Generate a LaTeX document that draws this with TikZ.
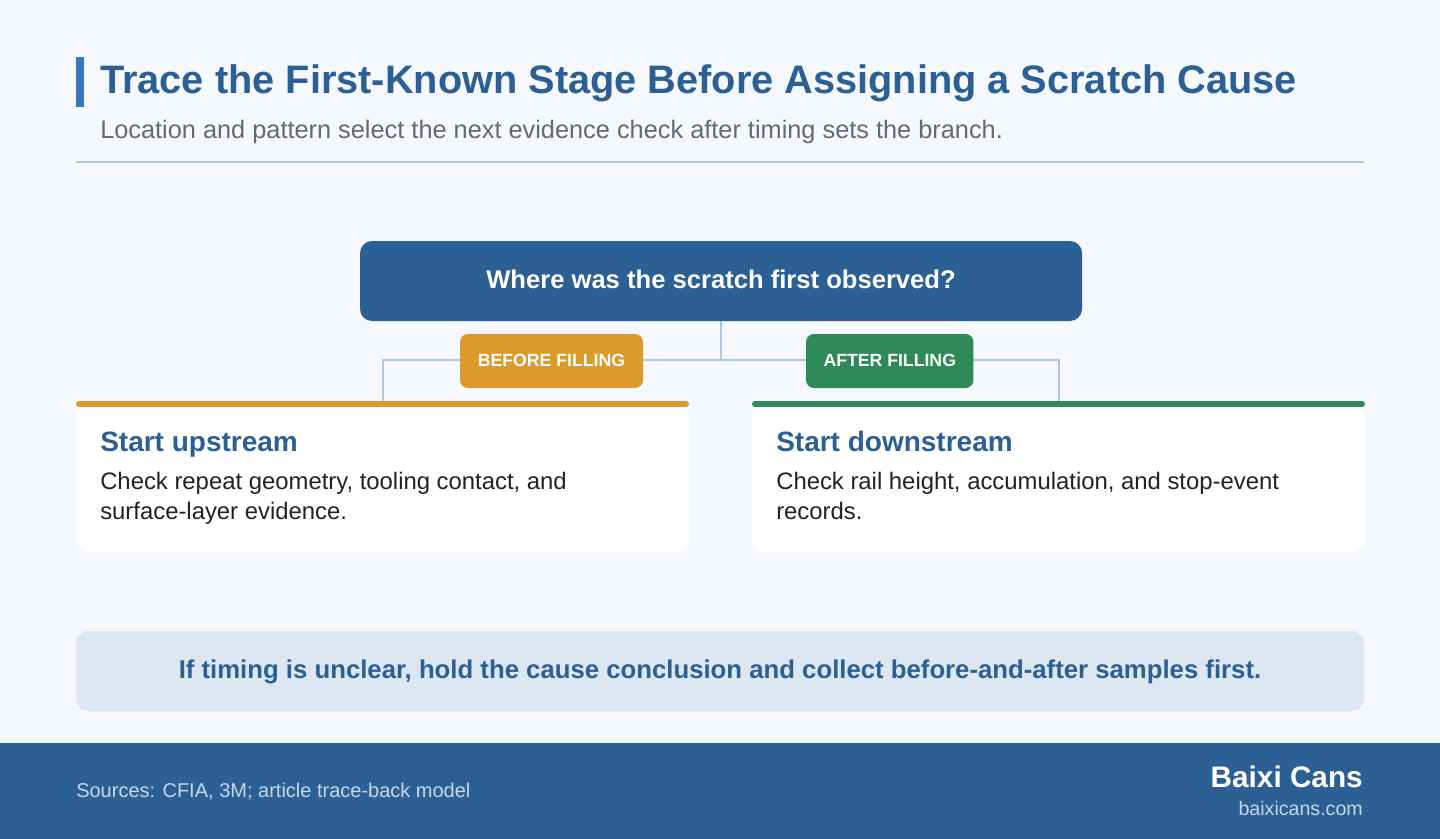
\documentclass[tikz,border=0pt]{standalone}
\usepackage{fontspec}
\setmainfont{Liberation Sans}
\usetikzlibrary{positioning}
\usetikzlibrary{calc}

\definecolor{pagebg}{HTML}{F5F8FC}
\definecolor{navy}{HTML}{2C5F94}
\definecolor{accent}{HTML}{3378BA}
\definecolor{linkblue}{HTML}{ADC8E2}
\definecolor{amber}{HTML}{DA9A2C}
\definecolor{leaf}{HTML}{2E8A57}
\definecolor{notefill}{HTML}{DCE7F2}
\definecolor{inkdark}{HTML}{222222}
\definecolor{subgray}{HTML}{5F6B7A}
\definecolor{footlight}{HTML}{C5D7EA}

\begin{document}
\begin{tikzpicture}[x=0.75pt,y=-0.75pt,
  link/.style={draw=linkblue,line width=1.5pt},
  badge/.style={rounded corners=6pt,inner sep=0pt,minimum height=40.5pt},
  badgetext/.style={anchor=base,inner sep=0pt,text=white,font=\fontsize{13.25}{15}\selectfont\bfseries},
  card/.style={fill=white,rounded corners=10.5pt,inner sep=0pt,minimum width=459.75pt,minimum height=113.25pt},
  cardtitle/.style={anchor=base west,inner sep=0pt,text=navy,font=\fontsize{21}{25}\selectfont\bfseries},
  cardtext/.style={anchor=base west,inner sep=0pt,text=inkdark,align=left,font=\fontsize{17.9}{22.5}\selectfont}]
\useasboundingbox (0,0) rectangle (1440,839);
\fill[pagebg] (0,0) rectangle (1440,839);
% header
\fill[accent] (76,57) rectangle (84,107);
\node[anchor=base west,inner sep=0pt,text=navy,font=\fontsize{29.8}{33}\selectfont\bfseries] (title) at (100,93) {Trace the First-Known Stage Before Assigning a Scratch Cause};
\node[anchor=base west,inner sep=0pt,text=subgray,font=\fontsize{19}{22}\selectfont] (subtitle) at (100,138) {Location and pattern select the next evidence check after timing sets the branch.};
\draw[linkblue,line width=1.5pt] (76,162) -- (1364,162);
% question
\node[fill=navy,rounded corners=9pt,minimum width=541.5pt,minimum height=60pt,inner sep=0pt] (q) at (721,281) {};
\node[anchor=base,inner sep=0pt,text=white,font=\fontsize{19.2}{23}\selectfont\bfseries] at (721,288) {Where was the scratch first observed?};
% cards
\node[card] (up) at (382.5,477) {};
\node[card] (down) at (1058.5,477) {};
% connectors
\draw[link] (q.south) -- ++(0,39) coordinate (hub);
\draw[link] (up.north) |- (hub) -| (down.north);
\draw[amber,line width=4.5pt,line cap=round] (79,404) -- (686,404);
\draw[leaf,line width=4.5pt,line cap=round] (755,404) -- (1362,404);
% badges
\node[badge,fill=amber,minimum width=137.25pt] (before) at (551.5,361) {};
\node[badgetext] at (551.5,366) {BEFORE FILLING};
\node[badge,fill=leaf,minimum width=125.6pt] (after) at (889.75,361) {};
\node[badgetext] at (889.75,366) {AFTER FILLING};
% card texts
\node[cardtitle] at (100,451) {Start upstream};
\node[cardtext] at (100,519) {Check repeat geometry, tooling contact, and\\surface-layer evidence.};
\node[cardtitle] at (776,451) {Start downstream};
\node[cardtext] at (776,519) {Check rail height, accumulation, and stop-event\\records.};
% note
\node[fill=notefill,rounded corners=9pt,minimum width=966pt,minimum height=60pt,inner sep=0pt] (note) at (720,671) {};
\node[anchor=base,inner sep=0pt,text=navy,font=\fontsize{19.3}{23}\selectfont\bfseries] at (720,678) {If timing is unclear, hold the cause conclusion and collect before-and-after samples first.};
% footer
\fill[navy] (0,743) rectangle (1440,839);
\node[anchor=base west,inner sep=0pt,text=footlight,font=\fontsize{15}{18}\selectfont] at (76,797) {Sources: CFIA, 3M; article trace-back model};
\node[anchor=base east,inner sep=0pt,text=white,font=\fontsize{22.3}{26}\selectfont\bfseries] at (1363,787) {Baixi Cans};
\node[anchor=base east,inner sep=0pt,text=footlight,font=\fontsize{14.7}{18}\selectfont] at (1363,815) {baixicans.com};
\end{tikzpicture}
\end{document}
